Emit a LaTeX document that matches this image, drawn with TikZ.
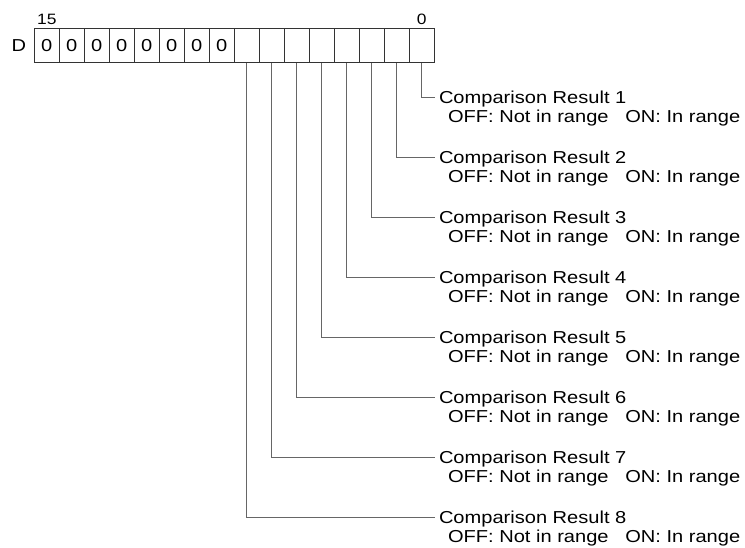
\documentclass[tikz,border=0pt]{standalone}
\usepackage{fontspec}
\setmainfont[FakeStretch=1.16]{Liberation Sans}
\usetikzlibrary{positioning,calc}

\begin{document}
\begin{tikzpicture}[
  font=\fontsize{17.3pt}{19pt}\selectfont,
  node distance=0pt,
  cell/.style={draw=black!80, line width=1.2pt, minimum width=25pt, minimum height=34.5pt, inner sep=0pt, outer sep=0pt},
  bitno/.style={font=\fontsize{15pt}{16pt}\selectfont, inner sep=0pt},
  regname/.style={inner sep=0pt},
  result/.style={inner sep=4pt, text height=12.3pt, text depth=0pt, anchor=west},
  rng/.style={result},
  lead/.style={draw=black!60, line width=1pt},
]

% ---------------- word D: bits 15 .. 0 ----------------
\node[cell] (b15) {0};
\node[cell, right=of b15] (b14) {0};
\node[cell, right=of b14] (b13) {0};
\node[cell, right=of b13] (b12) {0};
\node[cell, right=of b12] (b11) {0};
\node[cell, right=of b11] (b10) {0};
\node[cell, right=of b10] (b9) {0};
\node[cell, right=of b9] (b8) {0};
\node[cell, right=of b8] (b7) {};
\node[cell, right=of b7] (b6) {};
\node[cell, right=of b6] (b5) {};
\node[cell, right=of b5] (b4) {};
\node[cell, right=of b4] (b3) {};
\node[cell, right=of b3] (b2) {};
\node[cell, right=of b2] (b1) {};
\node[cell, right=of b1] (b0) {};

\node[regname, left=8pt of b15] (dword) {D};
\node[bitno, above=3.8pt of b15.north] (msb) {15};
\node[bitno, above=3.8pt of b0.north] (lsb) {0};

% ---------------- comparison results ----------------
\node[result, below right=34.3pt and 13pt of b0.south, anchor=west] (res1) {Comparison Result 1};
\node[result, below=60pt of res1.west, anchor=west] (res2) {Comparison Result 2};
\node[result, below=60pt of res2.west, anchor=west] (res3) {Comparison Result 3};
\node[result, below=60pt of res3.west, anchor=west] (res4) {Comparison Result 4};
\node[result, below=60pt of res4.west, anchor=west] (res5) {Comparison Result 5};
\node[result, below=60pt of res5.west, anchor=west] (res6) {Comparison Result 6};
\node[result, below=60pt of res6.west, anchor=west] (res7) {Comparison Result 7};
\node[result, below=60pt of res7.west, anchor=west] (res8) {Comparison Result 8};

\node[rng, below right=19pt and 9pt of res1.west, anchor=west] (rng1) {OFF: Not in range\ \ \ ON: In range};
\node[rng, below right=19pt and 9pt of res2.west, anchor=west] (rng2) {OFF: Not in range\ \ \ ON: In range};
\node[rng, below right=19pt and 9pt of res3.west, anchor=west] (rng3) {OFF: Not in range\ \ \ ON: In range};
\node[rng, below right=19pt and 9pt of res4.west, anchor=west] (rng4) {OFF: Not in range\ \ \ ON: In range};
\node[rng, below right=19pt and 9pt of res5.west, anchor=west] (rng5) {OFF: Not in range\ \ \ ON: In range};
\node[rng, below right=19pt and 9pt of res6.west, anchor=west] (rng6) {OFF: Not in range\ \ \ ON: In range};
\node[rng, below right=19pt and 9pt of res7.west, anchor=west] (rng7) {OFF: Not in range\ \ \ ON: In range};
\node[rng, below right=19pt and 9pt of res8.west, anchor=west] (rng8) {OFF: Not in range\ \ \ ON: In range};

% ---------------- leaders ----------------
\draw[lead] (b0.south) |- (res1.west);
\draw[lead] (b1.south) |- (res2.west);
\draw[lead] (b2.south) |- (res3.west);
\draw[lead] (b3.south) |- (res4.west);
\draw[lead] (b4.south) |- (res5.west);
\draw[lead] (b5.south) |- (res6.west);
\draw[lead] (b6.south) |- (res7.west);
\draw[lead] (b7.south) |- (res8.west);

% ---------------- page frame ----------------
\useasboundingbox ($(b15.north west)+(-34.3pt,28.3pt)$) rectangle ++(745pt,-547pt);

\end{tikzpicture}
\end{document}
